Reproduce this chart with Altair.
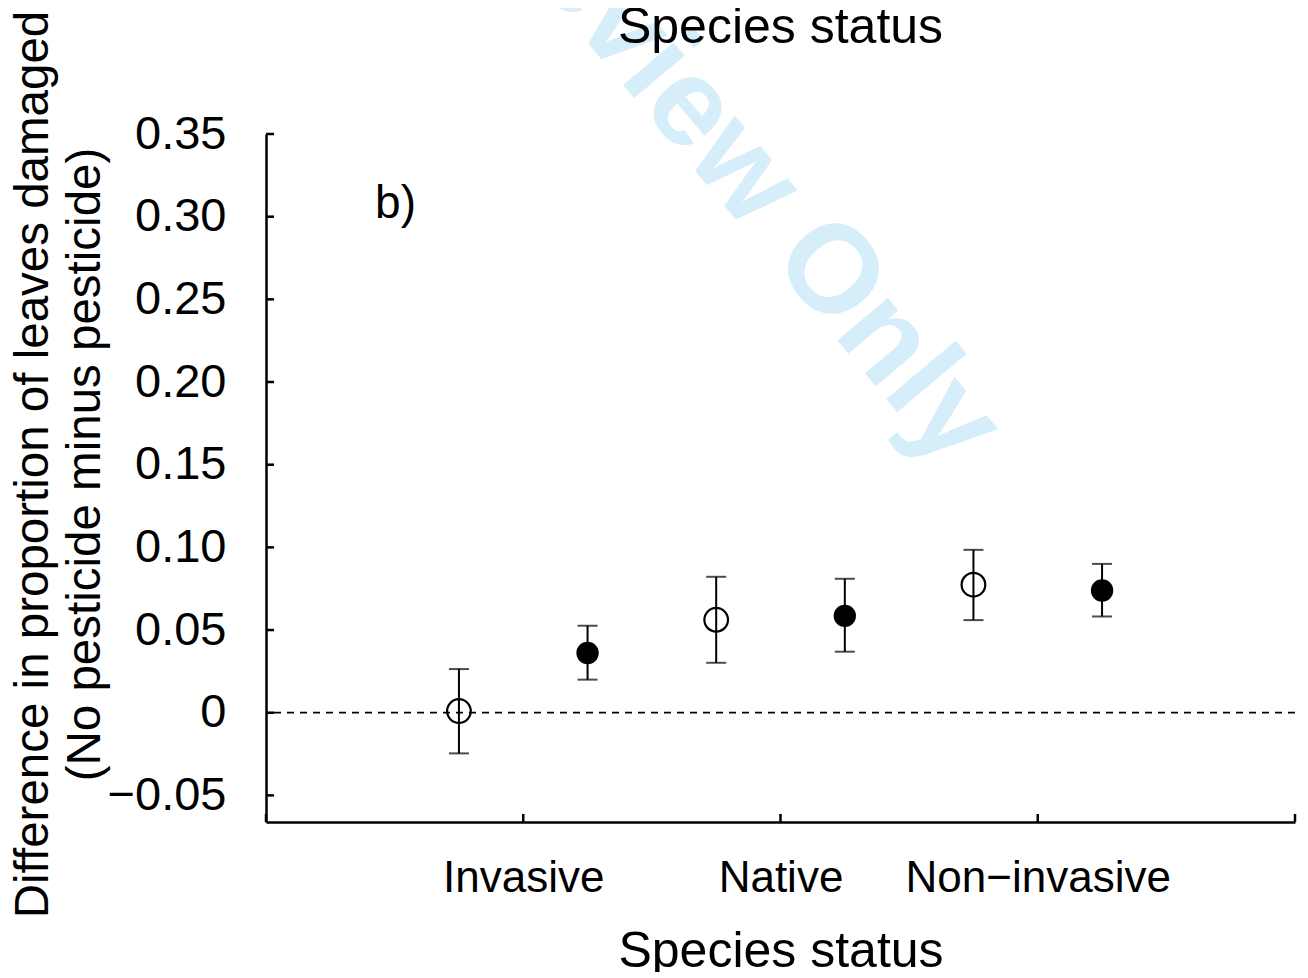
import json
import altair as alt
import pandas as pd

# ---- data ----
categories = ["Invasive", "Native", "Non\u2212invasive"]
cat_pos = [1, 2, 3]

open_mean = [0.001, 0.0562, 0.0774]
open_lo = [-0.0246, 0.0302, 0.056]
open_hi = [0.0264, 0.0822, 0.0985]

filled_mean = [0.0361, 0.0586, 0.0739]
filled_lo = [0.020, 0.0369, 0.0582]
filled_hi = [0.0526, 0.081, 0.090]

y_ticks = [-0.05, 0.0, 0.05, 0.10, 0.15, 0.20, 0.25, 0.30, 0.35]
x_ticks = [0, 1, 2, 3, 4]

panel_label = ["b)"]
panel_label_x = [0.424]
panel_label_y = [0.299]

watermark = ["Review Only"]
watermark_x = [1.835]
watermark_y = [0.3325]

FONT = "Liberation Sans"
W, H = 1029, 688
offset = 0.25

rows = []
for c, p, m, lo, hi in zip(categories, cat_pos, open_mean, open_lo, open_hi):
    rows.append(dict(cat=c, x=p - offset, mean=m, lo=lo, hi=hi, kind="open"))
for c, p, m, lo, hi in zip(categories, cat_pos, filled_mean, filled_lo, filled_hi):
    rows.append(dict(cat=c, x=p + offset, mean=m, lo=lo, hi=hi, kind="filled"))
df = pd.DataFrame(rows)

xscale = alt.Scale(domain=[0, 4], nice=False, zero=False)
yscale = alt.Scale(domain=[-0.0661, 0.35], nice=False, zero=False)

label_lookup = json.dumps([""] + categories, ensure_ascii=False)

xaxis = alt.Axis(
    values=cat_pos, labelExpr=f"{label_lookup}[datum.value]", ticks=False, tickSize=0,
    labelPadding=34, labelFontSize=44, labelFont=FONT, labelColor="black",
    labelBaseline="top", labelLimit=0, labelOverlap=False, labelFlush=False,
    domainColor="black", domainWidth=2.5, grid=False,
    title="Species status", titleFontSize=50, titleFont=FONT, titleFontWeight="normal",
    titleColor="black", titleBaseline="alphabetic", titleAlign="center",
    titleX=W / 2, titleY=144,
)
yaxis = alt.Axis(
    values=y_ticks, labelExpr="datum.value == 0 ? '0' : format(datum.value, '.2f')",
    ticks=False, tickSize=0, labelPadding=40, labelFontSize=47, labelFont=FONT,
    labelColor="black", labelOverlap=False, labelFlush=False,
    domainColor="black", domainWidth=2.5, grid=False,
    title=["Difference in proportion of leaves damaged", "(No pesticide minus pesticide)"],
    titleFontSize=47.5, titleFont=FONT, titleFontWeight="normal", titleColor="black",
    titleAngle=270, titleBaseline="top", titleAlign="center", titleLineHeight=52,
    titleX=-257, titleY=330, titleLimit=0,
)

base = alt.Chart(df)

wm = alt.Chart(pd.DataFrame({"t": watermark, "x": watermark_x, "y": watermark_y})).mark_text(
    font=FONT, fontSize=125, fontWeight="bold", color="#d5eefa", angle=50,
    align="center", baseline="middle"
).encode(x=alt.X("x:Q", scale=xscale, axis=xaxis), y=alt.Y("y:Q", scale=yscale, axis=yaxis), text="t:N")

zero_line = alt.Chart(pd.DataFrame({"y": [0.0]})).mark_rule(
    color="black", strokeWidth=1.8, strokeDash=[7, 6]
).encode(y=alt.Y("y:Q", scale=yscale))

ytick_marks = alt.Chart(pd.DataFrame({"y": y_ticks})).mark_rule(color="black", strokeWidth=2.5).encode(
    y=alt.Y("y:Q", scale=yscale), x=alt.value(0), x2=alt.value(8)
)
xtick_marks = alt.Chart(pd.DataFrame({"x": x_ticks})).mark_rule(color="black", strokeWidth=2.5).encode(
    x=alt.X("x:Q", scale=xscale), y=alt.value(H), y2=alt.value(H - 8)
)

bars = base.mark_rule(color="black", strokeWidth=2).encode(
    x=alt.X("x:Q", scale=xscale), y=alt.Y("lo:Q", scale=yscale), y2="hi:Q"
)
cap_lo = base.mark_tick(color="black", orient="horizontal", size=20, thickness=2).encode(
    x=alt.X("x:Q", scale=xscale), y=alt.Y("lo:Q", scale=yscale)
)
cap_hi = base.mark_tick(color="black", orient="horizontal", size=20, thickness=2).encode(
    x=alt.X("x:Q", scale=xscale), y=alt.Y("hi:Q", scale=yscale)
)
pts_open = base.transform_filter(alt.datum.kind == "open").mark_point(
    shape="circle", filled=False, color="black", strokeWidth=2.2, size=560, opacity=1
).encode(x=alt.X("x:Q", scale=xscale), y=alt.Y("mean:Q", scale=yscale))
pts_filled = base.transform_filter(alt.datum.kind == "filled").mark_point(
    shape="circle", filled=True, color="black", size=500, opacity=1
).encode(x=alt.X("x:Q", scale=xscale), y=alt.Y("mean:Q", scale=yscale))

panel = alt.Chart(pd.DataFrame({"t": panel_label, "x": panel_label_x, "y": panel_label_y})).mark_text(
    font=FONT, fontSize=46, color="black", align="left", baseline="alphabetic"
).encode(x=alt.X("x:Q", scale=xscale), y=alt.Y("y:Q", scale=yscale), text="t:N")

top_title = alt.Chart(pd.DataFrame({"t": ["Species status"]})).mark_text(
    font=FONT, fontSize=50, color="black", align="center", baseline="alphabetic"
).encode(x=alt.value(W / 2), y=alt.value(-91), text="t:N")

chart = alt.layer(
    wm, zero_line, ytick_marks, xtick_marks, bars, cap_lo, cap_hi, pts_open, pts_filled, panel, top_title
).properties(
    width=W, height=H,
    autosize=alt.AutoSizeParams(type="none"),
    padding={"left": 258, "top": 126, "right": 5, "bottom": 150},
    background="white",
).configure_view(stroke=None)

chart.save("out.html", embed_options={"renderer": "svg", "actions": False})
